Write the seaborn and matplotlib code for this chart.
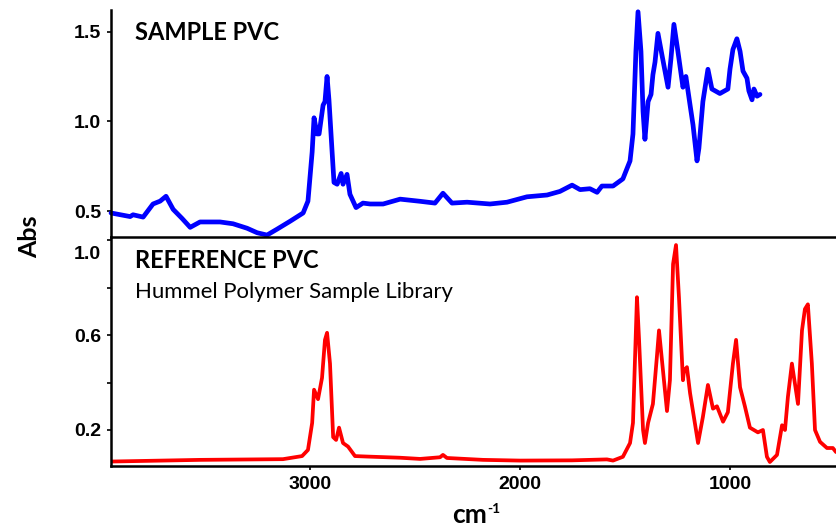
import matplotlib
matplotlib.use("Agg")
import matplotlib.pyplot as plt
import matplotlib.transforms as mtransforms
import pandas as pd
import seaborn as sns

# sample spectrum (blue), wavenumber in cm-1 and absorbance
sample_wn = [3948, 3857, 3843, 3795, 3748, 3714, 3686, 3652, 3610, 3571, 3524, 3429, 3367,
             3300, 3252, 3205, 3157, 3095, 3033, 3010, 2990, 2981, 2967, 2957, 2938, 2929,
             2919, 2910, 2895, 2886, 2871, 2852, 2843, 2824, 2810, 2781, 2748, 2714, 2652,
             2571, 2476, 2405, 2367, 2324, 2252, 2143, 2062, 1967, 1871, 1810, 1752, 1714,
             1667, 1633, 1610, 1557, 1510, 1476, 1462, 1448, 1438, 1424, 1414, 1405, 1390,
             1376, 1367, 1357, 1343, 1324, 1295, 1281, 1267, 1248, 1224, 1210, 1190, 1176,
             1157, 1148, 1129, 1105, 1086, 1048, 1010, 1000, 986, 967, 952, 938, 919, 910,
             895, 886, 871, 857]
sample_abs = [0.49, 0.47, 0.48, 0.467, 0.54, 0.556, 0.583, 0.51, 0.46, 0.41, 0.44, 0.44, 0.43,
              0.405, 0.38, 0.367, 0.40, 0.444, 0.49, 0.556, 0.83, 1.02, 0.93, 0.93, 1.09, 1.11,
              1.25, 1.12, 0.83, 0.66, 0.65, 0.71, 0.65, 0.705, 0.594, 0.52, 0.545, 0.54, 0.54,
              0.567, 0.555, 0.545, 0.60, 0.545, 0.55, 0.54, 0.55, 0.58, 0.59, 0.61, 0.645, 0.62,
              0.625, 0.605, 0.64, 0.64, 0.68, 0.78, 0.93, 1.39, 1.61, 1.39, 1.055, 0.90, 1.11,
              1.15, 1.26, 1.33, 1.49, 1.37, 1.19, 1.35, 1.54, 1.39, 1.19, 1.25, 1.09, 0.98,
              0.78, 0.85, 1.11, 1.29, 1.18, 1.155, 1.18, 1.29, 1.40, 1.46, 1.39, 1.28, 1.24, 1.17,
              1.12, 1.18, 1.14, 1.15]

# library reference spectrum (red)
ref_wn = [3948, 3524, 3129, 3038, 3010, 2990, 2981, 2962, 2943, 2929, 2919, 2905, 2890, 2876,
          2862, 2843, 2819, 2786, 2729, 2571, 2476, 2381, 2367, 2348, 2176, 2000, 1752, 1586,
          1557, 1510, 1476, 1462, 1443, 1433, 1414, 1405, 1390, 1367, 1348, 1338, 1319, 1300,
          1286, 1271, 1257, 1243, 1224, 1219, 1205, 1190, 1152, 1129, 1105, 1081, 1062, 1033,
          1010, 986, 971, 952, 929, 905, 867, 843, 824, 810, 776, 752, 738, 724, 705, 676, 657,
          643, 629, 610, 595, 571, 538, 510, 495]
ref_abs = [0.067, 0.074, 0.077, 0.09, 0.116, 0.23, 0.37, 0.33, 0.42, 0.58, 0.61, 0.48, 0.17,
           0.158, 0.21, 0.145, 0.13, 0.09, 0.088, 0.083, 0.078, 0.085, 0.095, 0.082, 0.074,
           0.071, 0.072, 0.076, 0.071, 0.087, 0.145, 0.23, 0.76, 0.58, 0.20, 0.145, 0.23, 0.31,
           0.51, 0.62, 0.45, 0.28, 0.41, 0.90, 0.98, 0.76, 0.41, 0.45, 0.465, 0.355, 0.145,
           0.255, 0.39, 0.29, 0.30, 0.235, 0.275, 0.48, 0.58, 0.38, 0.30, 0.21, 0.19, 0.20,
           0.087, 0.065, 0.095, 0.22, 0.20, 0.34, 0.48, 0.31, 0.62, 0.71, 0.73, 0.48, 0.20,
           0.15, 0.124, 0.124, 0.107]

sample_ticks = [0.5, 1.0, 1.5]
sample_tick_labels = ["0.5", "1.0", "1.5"]
ref_ticks = [0.2, 0.4, 0.6, 0.8, 1.0]
ref_tick_labels = ["0.2", "", "0.6", "", "1.0"]
x_ticks = [3000, 2000, 1000]

sns.set_style("ticks", {"axes.edgecolor": "black", "text.color": "black",
                        "xtick.color": "black", "ytick.color": "black",
                        "axes.labelcolor": "black"})
plt.rcParams["font.family"] = ["Liberation Sans", "DejaVu Sans"]

sample_df = pd.DataFrame({"wn": sample_wn, "abs": sample_abs})
ref_df = pd.DataFrame({"wn": ref_wn, "abs": ref_abs})

fig = plt.figure(figsize=(8.36, 5.26), dpi=100)
ax_bot = fig.add_axes([0.1328, 0.114, 0.8672, 0.435])
ax_top = fig.add_axes([0.1328, 0.549, 0.8672, 0.432], sharex=ax_bot)
ax_top.patch.set_visible(False)

sns.lineplot(data=sample_df, x="wn", y="abs", sort=False, color="#0000ff", linewidth=3.4,
             ax=ax_top, clip_on=False)
sns.lineplot(data=ref_df, x="wn", y="abs", sort=False, color="#ff0000", linewidth=2.7,
             ax=ax_bot)

ax_bot.set_xlim(3948, 495)
ax_top.set_ylim(0.355, 1.62)
ax_bot.set_ylim(0.048, 1.013)

for ax in (ax_top, ax_bot):
    ax.set_xlabel("")
    ax.set_ylabel("")
    ax.spines["top"].set_visible(False)
    ax.spines["right"].set_visible(False)
    ax.spines["left"].set_linewidth(1.8)
    ax.spines["bottom"].set_linewidth(1.8)
    ax.tick_params(axis="both", direction="out", length=3, width=1.2, labelsize=14, pad=4)

ax_top.set_yticks(sample_ticks)
ax_top.set_yticklabels(sample_tick_labels, fontweight="bold")
ax_top.tick_params(axis="x", length=0, labelbottom=False)

ax_bot.set_yticks(ref_ticks)
ax_bot.set_yticklabels(ref_tick_labels, fontweight="bold")
ax_bot.set_xticks(x_ticks)
ax_bot.set_xticklabels([str(t) for t in x_ticks], fontweight="bold")

# the top "1.0" label sits a little below its tick in the original
shift_down = mtransforms.ScaledTranslation(0, -0.12, fig.dpi_scale_trans)
top_label = ax_bot.get_yticklabels()[-1]
top_label.set_transform(top_label.get_transform() + shift_down)

title_font = ["Lato", "DejaVu Sans"]
fig.text(0.1615, 0.924, "SAMPLE PVC", fontsize=17, fontweight="bold",
         family=title_font, va="baseline")
fig.text(0.1615, 0.4905, "REFERENCE PVC", fontsize=17, fontweight="bold",
         family=title_font, va="baseline")
fig.text(0.1615, 0.4335, "Hummel Polymer Sample Library", fontsize=15.9,
         family=title_font, va="baseline")

fig.text(0.0359, 0.549, "Abs", rotation=90, fontsize=18, fontweight="bold",
         family=title_font, ha="center", va="center")
fig.text(0.5407, 0.0057, "cm", fontsize=19, fontweight="bold", family=title_font,
         va="baseline")
fig.text(0.5825, 0.0247, "-1", fontsize=10, fontweight="bold", family=title_font,
         va="baseline")

fig.savefig("out.png", dpi=100)
